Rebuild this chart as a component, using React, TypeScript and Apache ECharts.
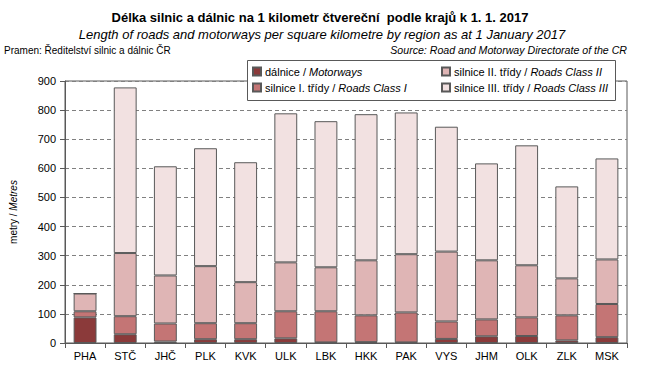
import React, { useEffect, useRef } from "react";
import * as echarts from "echarts";

const categories = ["PHA", "STČ", "JHČ", "PLK", "KVK", "ULK", "LBK", "HKK", "PAK", "VYS", "JHM", "OLK", "ZLK", "MSK"];
const motorways = [88, 30, 5, 13, 13, 16, 2, 3, 2, 14, 23, 24, 9, 20];
const class1 = [21, 62, 62, 55, 55, 93, 107, 92, 103, 60, 58, 64, 86, 114];
const class2 = [61, 217, 165, 196, 141, 168, 151, 189, 200, 240, 203, 179, 127, 153];
const class3 = [0, 569, 375, 405, 412, 512, 502, 502, 487, 429, 333, 412, 316, 347];
const yTicks = { min: 0, max: 900, interval: 100 };

const seriesNames = ["dálnice", "silnice I. třídy", "silnice II. třídy", "silnice III. třídy"];
const seriesEn = ["Motorways", "Roads Class I", "Roads Class II", "Roads Class III"];
const seriesColors = ["#8B3A3A", "#C47575", "#DFB5B5", "#F2E1E1"];
const seriesData = [motorways, class1, class2, class3];

const FONT = "Liberation Sans, Arial, sans-serif";

export default function App() {
  const ref = useRef<HTMLDivElement>(null);
  useEffect(() => {
    if (!ref.current) return;
    const chart = echarts.init(ref.current, undefined, { renderer: "svg" });
    const legendPos = [
      { left: 252, top: 66 },
      { left: 252, top: 82 },
      { left: 441, top: 66 },
      { left: 441, top: 82 },
    ];
    chart.setOption({
      animation: false,
      textStyle: { fontFamily: FONT },
      grid: {
        left: 63,
        right: 18,
        top: 81,
        bottom: 34,
        show: true,
        borderColor: "#595959",
        borderWidth: 1,
        backgroundColor: "transparent",
      },
      legend: seriesNames.map((n, i) => ({
        data: [n],
        left: legendPos[i].left,
        top: legendPos[i].top,
        z: 20,
        itemWidth: 8,
        itemHeight: 8,
        itemGap: 0,
        padding: 0,
        icon: "rect",
        selectedMode: false,
        formatter: () => `{n|${seriesNames[i]} / }{i|${seriesEn[i]}}`,
        textStyle: {
          fontFamily: FONT,
          fontSize: 11,
          color: "#000",
          padding: [0, 0, 0, -1],
          rich: {
            n: { fontFamily: FONT, fontSize: 11, color: "#000" },
            i: { fontFamily: FONT, fontSize: 11, color: "#000", fontStyle: "italic" },
          },
        },
      })),
      graphic: [
        {
          type: "rect",
          z: 10,
          shape: { x: 247.5, y: 60.5, width: 368, height: 40 },
          style: { fill: "#fff", stroke: "#595959", lineWidth: 1 },
        },
        {
          type: "text",
          x: 320,
          y: 17,
          style: {
            text: "Délka silnic a dálnic na 1 kilometr čtvereční  podle krajů k 1. 1. 2017",
            font: `bold 13px ${FONT}`,
            fill: "#000",
            textAlign: "center",
            textVerticalAlign: "middle",
          },
        },
        {
          type: "text",
          x: 322,
          y: 34,
          style: {
            text: "Length of roads and motorways per square kilometre by region as at 1 January 2017",
            font: `italic 13px ${FONT}`,
            fill: "#000",
            textAlign: "center",
            textVerticalAlign: "middle",
          },
        },
        {
          type: "text",
          x: 4,
          y: 50,
          style: {
            text: "Pramen: Ředitelství silnic a dálnic ČR",
            font: `10px ${FONT}`,
            fill: "#000",
            textAlign: "left",
            textVerticalAlign: "middle",
          },
        },
        {
          type: "text",
          x: 627,
          y: 50,
          style: {
            text: "Source: Road and Motorway Directorate of the CR",
            font: `italic 10.6px ${FONT}`,
            fill: "#000",
            textAlign: "right",
            textVerticalAlign: "middle",
          },
        },
      ],
      xAxis: {
        type: "category",
        data: categories,
        axisLine: { lineStyle: { color: "#595959", width: 1 } },
        axisTick: { show: true, length: 5, lineStyle: { color: "#595959" } },
        axisLabel: { color: "#000", fontSize: 11, margin: 7, fontFamily: FONT },
      },
      yAxis: {
        type: "value",
        min: yTicks.min,
        max: yTicks.max,
        interval: yTicks.interval,
        name: "{n|metry / }{i|Metres}",
        nameLocation: "middle",
        nameRotate: 90,
        nameGap: 47,
        nameTextStyle: {
          rich: {
            n: { fontFamily: FONT, fontSize: 10, color: "#000" },
            i: { fontFamily: FONT, fontSize: 10, color: "#000", fontStyle: "italic" },
          },
        },
        axisLine: { show: true, lineStyle: { color: "#595959", width: 1 } },
        axisTick: { show: true, length: 5, lineStyle: { color: "#595959" } },
        axisLabel: { color: "#000", fontSize: 11, margin: 9, fontFamily: FONT },
        splitLine: { show: true, lineStyle: { color: "#808080", type: [4, 3], width: 1 } },
      },
      series: seriesNames.map((n, i) => ({
        name: n,
        type: "bar",
        stack: "total",
        barWidth: "57%",
        data: seriesData[i],
        itemStyle: { color: seriesColors[i], borderColor: "#595959", borderWidth: 1 },
      })),
    });
    return () => chart.dispose();
  }, []);
  return <div ref={ref} style={{ width: 645, height: 377, position: "absolute", left: 0, top: 0 }} />;
}
